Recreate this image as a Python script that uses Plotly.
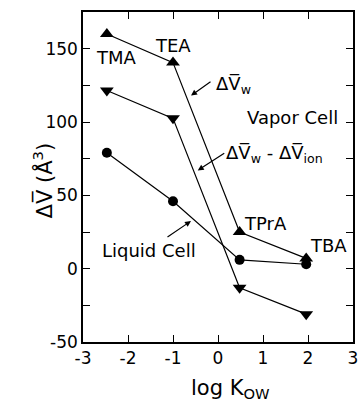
import plotly.graph_objects as go

log_kow = [-2.47, -1.0, 0.48, 1.96]
ions = ["TMA", "TEA", "TPrA", "TBA"]
dv_w = [160, 140.5, 25, 7]
dv_w_minus_ion = [121.5, 102.5, -13, -31]
liquid_cell = [79, 46, 6, 3]
x_ticks = [-3, -2, -1, 0, 1, 2, 3]
y_ticks = [-50, 0, 50, 100, 150]

FONT = "DejaVu Sans"
fig = go.Figure()
line = dict(color="black", width=1.2)
fig.add_trace(go.Scatter(x=log_kow, y=dv_w, mode="lines+markers", line=line,
                         marker=dict(symbol="triangle-up", size=12, color="black")))
fig.add_trace(go.Scatter(x=log_kow, y=dv_w_minus_ion, mode="lines+markers", line=line,
                         marker=dict(symbol="triangle-down", size=12, color="black")))
fig.add_trace(go.Scatter(x=log_kow, y=liquid_cell, mode="lines+markers", line=line,
                         marker=dict(symbol="circle", size=10, color="black")))

tf = dict(family=FONT, size=18, color="black")
def txt(x, y, s):
    fig.add_annotation(x=x, y=y, text=s, showarrow=False, font=tf)
txt(-2.26, 144, ions[0])
txt(-1.0, 152, ions[1])
txt(0.34, 125, "ΔV\u0305<sub>w</sub>")
txt(1.65, 103, "Vapor Cell")
txt(1.25, 78, "ΔV\u0305<sub>w</sub> - ΔV\u0305<sub>ion</sub>")
txt(1.06, 30.5, ions[2])
txt(2.46, 16, ions[3])
txt(-1.54, 12.7, "Liquid Cell")

def arrow(x, y, ax, ay):
    fig.add_annotation(x=x, y=y, ax=ax, ay=ay, text="", showarrow=True,
                       arrowhead=2, arrowsize=1, arrowwidth=1.2, arrowcolor="black")
arrow(-0.6, 118, 21, -15)
arrow(-0.45, 67, 28, -18)
arrow(-0.6, 32.5, -25, 17)

# axis titles as paper annotations
fig.add_annotation(xref="paper", yref="paper", x=-0.207, y=0.49, textangle=-90,
                   text="ΔV\u0305 (Å<sup>3</sup>)", showarrow=False,
                   font=dict(family=FONT, size=21, color="black"))
fig.add_annotation(xref="paper", yref="paper", x=0.545, y=-0.142, yanchor="middle",
                   text="log K<sub>OW</sub>", showarrow=False,
                   font=dict(family=FONT, size=21, color="black"))

axis_common = dict(showline=True, linecolor="black", linewidth=1.5, mirror="allticks",
                   ticks="inside", tickcolor="black", ticklen=7, tickwidth=1.2,
                   showgrid=False, zeroline=False,
                   tickfont=dict(family=FONT, size=17, color="black"))
fig.update_xaxes(range=[-3, 3], tickvals=x_ticks, ticktext=[str(v) for v in x_ticks], **axis_common)
fig.update_yaxes(range=[-50, 175], tickvals=y_ticks, ticktext=[str(v) for v in y_ticks],
                 minor=dict(dtick=25, tick0=0, ticks="inside", ticklen=7, tickcolor="black", tickwidth=1.2),
                 **axis_common)
fig.update_layout(width=363, height=407, margin=dict(l=83, r=5, t=12, b=65),
                  plot_bgcolor="white", paper_bgcolor="white", showlegend=False)
fig.write_html("out.html")
